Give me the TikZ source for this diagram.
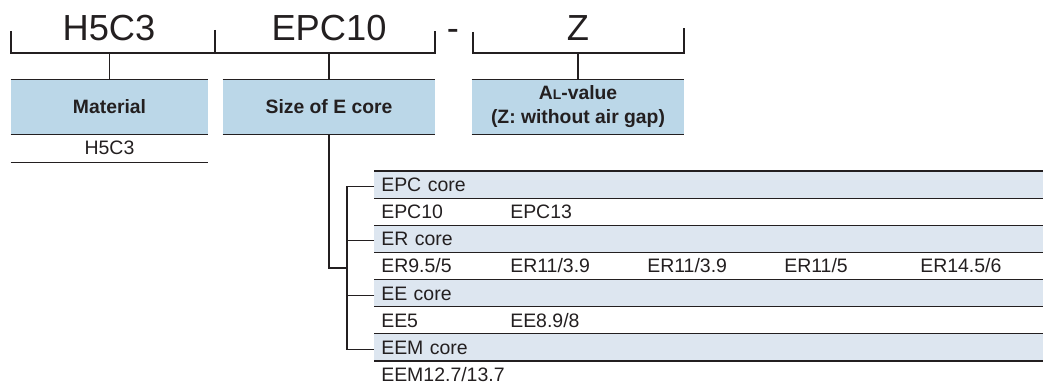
\documentclass[tikz,border=0pt]{standalone}
\usepackage{fontspec}
\setmainfont{Liberation Sans}
\usetikzlibrary{positioning}
\definecolor{boxblue}{HTML}{BBD7E8}
\definecolor{rowblue}{HTML}{DDE6F0}
\definecolor{ink}{HTML}{231F20}

\begin{document}
\begin{tikzpicture}[
  x=0.75pt, y=-0.75pt,
  every node/.style={text=ink, inner sep=0pt},
  line/.style={draw=ink, line width=0.9pt},
  big/.style={font=\fontsize{27.2}{30}\selectfont, anchor=base},
  catbox/.style={fill=boxblue, minimum height=40.5pt, align=center, font=\bfseries\fontsize{14.5}{18}\selectfont},
  hdrrow/.style={fill=rowblue, anchor=west, inner xsep=5.25pt, inner ysep=0pt, text width=491.25pt, minimum height=20.36pt, align=left, text height=10.4pt, text depth=0pt, font=\fontsize{14.6}{17}\selectfont},
  cell/.style={anchor=west, text height=10.4pt, text depth=0pt, font=\fontsize{14.6}{17}\selectfont},
]
  \useasboundingbox (0,0) rectangle (1043,385);

  % code letters and brackets
  \node[big] (mattxt) at (109,41) {H5C3};
  \node[big] (sizetxt) at (329,41) {EPC10};
  \node[big] (dash) at (453,41) {-};
  \node[big] (altxt) at (578,41) {Z};
  \coordinate (bar) at (0,53);
  \draw[line] (11,31) |- (435,53) -- (435,31);
  \draw[line] (215,30) -- (215,53);
  \draw[line] (473,32) |- (684,53) -- (684,28);

  % category boxes
  \node[catbox, minimum width=147.75pt] (mat) at (109.5,107) {Material};
  \node[catbox, minimum width=159pt] (size) at (329,107) {Size of E core};
  \node[catbox, minimum width=159pt] (al) at (578,107) {A{\fontsize{10.5}{12}\selectfont L}-value\\(Z: without air gap)};
  \foreach \n in {mat,size,al} {
    \draw[line] (\n.north west) -- (\n.north east) (\n.south west) -- (\n.south east);
    \draw[line] (\n.north) -- (\n.north |- bar);
  }
  \node[cell, anchor=center] (matval) at (109.5,148) {H5C3};
  \draw[line] ([yshift=-21pt]mat.south west) -- ([yshift=-21pt]mat.south east);

  % core table
  \node[hdrrow] (epcRow) at (374,184.57) {EPC core};
  \node[hdrrow] (erRow) at (374,238.85) {ER core};
  \node[hdrrow] (eeRow) at (374,293.13) {EE core};
  \node[hdrrow] (eemRow) at (374,347.41) {EEM core};
  \foreach \k in {0,...,7}
    \draw[line] (374,171+27.14*\k) -- (1043,171+27.14*\k);

  \node[cell] (epc10) at (381,211.71) {EPC10};
  \node[cell] (epc13) at (510,211.71) {EPC13};
  \node[cell] (er95) at (381,265.99) {ER9.5/5};
  \node[cell] (er11a) at (510,265.99) {ER11/3.9};
  \node[cell] (er11b) at (647,265.99) {ER11/3.9};
  \node[cell] (er11c) at (784,265.99) {ER11/5};
  \node[cell] (er145) at (920,265.99) {ER14.5/6};
  \node[cell] (ee5) at (381,320.27) {EE5};
  \node[cell] (ee89) at (510,320.27) {EE8.9/8};
  \node[cell] (eem127) at (381,374.55) {EEM12.7/13.7};

  % tree from size box to core families
  \coordinate (trunk) at (347,268);
  \draw[line] (size.south) |- (trunk);
  \draw[line] ([yshift=-1.5pt]epcRow.west) -| (trunk) |- ([yshift=-1.5pt]eemRow.west);
  \draw[line] ([yshift=-1.5pt]erRow.west) -- ([yshift=-1.5pt]erRow.west -| trunk);
  \draw[line] ([yshift=-1.5pt]eeRow.west) -- ([yshift=-1.5pt]eeRow.west -| trunk);
\end{tikzpicture}
\end{document}
